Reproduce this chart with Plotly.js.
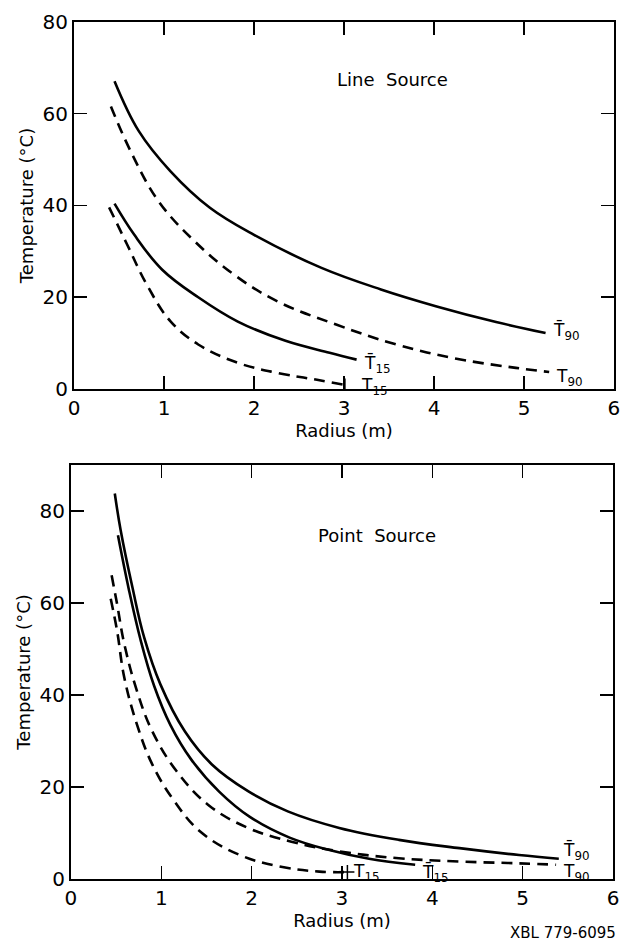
<!DOCTYPE html>
<html>
<head>
<meta charset="utf-8">
<script src="https://cdn.plot.ly/plotly-3.0.1.min.js"></script>
<style>html,body{margin:0;padding:0;background:#fff;}#chart{width:621px;height:952px;}</style>
</head>
<body>
<div id="chart"></div>
<script>
// ---- Line source (top panel) ----
const lineT90barX = [0.45, 0.72, 1.07, 1.51, 2.0, 2.75, 3.41, 4.03, 4.69, 5.24];
const lineT90barY = [67.1, 56.2, 47.5, 39.5, 33.6, 26.4, 21.7, 18.0, 14.6, 12.2];
const lineT90X = [0.41, 0.63, 0.94, 1.34, 1.78, 2.26, 2.92, 3.58, 4.25, 4.91, 5.28];
const lineT90Y = [61.6, 51.8, 40.9, 32.2, 24.9, 19.1, 14.0, 9.7, 6.6, 4.6, 3.7];
const lineT15barX = [0.45, 0.67, 0.98, 1.38, 1.82, 2.35, 2.84, 3.14];
const lineT15barY = [40.4, 33.6, 26.0, 20.0, 14.7, 10.5, 7.9, 6.4];
const lineT15X = [0.39, 0.59, 0.81, 1.07, 1.38, 1.82, 2.26, 2.70, 3.01];
const lineT15Y = [39.6, 31.5, 22.7, 14.8, 9.7, 5.7, 3.5, 2.0, 0.9];

// ---- Point source (bottom panel) ----
const ptT90barX = [0.485, 0.55, 0.68, 0.81, 0.99, 1.26, 1.56, 1.96, 2.40, 2.97, 3.63, 4.30, 4.96, 5.40];
const ptT90barY = [83.8, 75.8, 63.4, 52.5, 42.3, 32.1, 24.9, 19.1, 14.7, 11.1, 8.5, 6.7, 5.2, 4.4];
const ptT15barX = [0.52, 0.64, 0.77, 0.92, 1.10, 1.33, 1.64, 1.98, 2.42, 2.86, 3.30, 3.81];
const ptT15barY = [74.7, 63.0, 52.0, 42.0, 33.5, 26.0, 19.0, 13.5, 9.0, 6.3, 4.4, 3.1];
const ptT90X = [0.45, 0.51, 0.59, 0.73, 0.90, 1.17, 1.52, 1.96, 2.44, 2.97, 3.63, 4.30, 4.96, 5.37];
const ptT90Y = [66.0, 59.8, 51.1, 40.9, 32.1, 23.4, 16.1, 11.1, 8.1, 6.0, 4.5, 3.8, 3.4, 3.1];
const ptT15X = [0.44, 0.51, 0.59, 0.73, 0.90, 1.12, 1.43, 1.87, 2.31, 2.75, 3.06];
const ptT15Y = [60.9, 54.0, 43.8, 33.6, 24.9, 17.6, 10.3, 5.2, 2.7, 1.6, 1.5];

const xTicks = [0, 1, 2, 3, 4, 5, 6];
const yTicksTop = [0, 20, 40, 60, 80];
const yTicksBottom = [0, 20, 40, 60, 80];

const FONT = "DejaVu Sans, Liberation Sans, sans-serif";
const solid = {color: 'black', width: 2.6, shape: 'spline', smoothing: 1.1};
const dashed = {color: 'black', width: 2.6, dash: '11px,7px', shape: 'spline', smoothing: 1.1};

function tr(x, y, line, xa, ya) {
  return {x: x, y: y, mode: 'lines', line: line, xaxis: xa, yaxis: ya, hoverinfo: 'skip', showlegend: false};
}

const data = [
  tr(lineT90barX, lineT90barY, solid, 'x', 'y'),
  tr(lineT90X, lineT90Y, dashed, 'x', 'y'),
  tr(lineT15barX, lineT15barY, solid, 'x', 'y'),
  tr(lineT15X, lineT15Y, dashed, 'x', 'y'),
  {x: [lineT15X[lineT15X.length - 1]], y: [lineT15Y[lineT15Y.length - 1]], mode: 'markers', xaxis: 'x', yaxis: 'y',
   marker: {symbol: 'line-ns-open', size: 9, color: 'black', line: {color: 'black', width: 1.5}}, showlegend: false, hoverinfo: 'skip'},
  tr(ptT90barX, ptT90barY, solid, 'x2', 'y2'),
  tr(ptT15barX, ptT15barY, solid, 'x2', 'y2'),
  tr(ptT90X, ptT90Y, dashed, 'x2', 'y2'),
  tr(ptT15X, ptT15Y, dashed, 'x2', 'y2'),
  {x: [ptT15X[ptT15X.length - 1]], y: [ptT15Y[ptT15Y.length - 1]], mode: 'markers', xaxis: 'x2', yaxis: 'y2',
   marker: {symbol: 'cross-thin-open', size: 10, color: 'black', line: {color: 'black', width: 1.5}}, showlegend: false, hoverinfo: 'skip'}
];

const axisCommon = {
  showgrid: false, zeroline: false, showline: true, linecolor: 'black', linewidth: 2,
  mirror: 'ticks', ticks: 'inside', ticklen: 13, tickwidth: 1.5, tickcolor: 'black',
  tickfont: {family: FONT, size: 20, color: 'black'}
};

function lbl(x, y, text, xref, yref, size) {
  return {x: x, y: y, xref: xref, yref: yref, text: text, showarrow: false,
          font: {family: FONT, size: size || 17, color: 'black'}, xanchor: 'left'};
}

const T90bar = 'T\u0304<sub>90</sub>';
const T15bar = 'T\u0304<sub>15</sub>';
const T90 = 'T<sub>90</sub>';
const T15 = 'T<sub>15</sub>';

const layout = {
  width: 621, height: 952,
  margin: {l: 0, r: 0, t: 0, b: 0},
  paper_bgcolor: 'white', plot_bgcolor: 'white',
  showlegend: false,
  xaxis: Object.assign({}, axisCommon, {domain: [0.1192, 0.9887], range: [0, 6], tickvals: xTicks, anchor: 'y',
    title: {text: 'Radius (m)', font: {family: FONT, size: 18, color: 'black'}, standoff: 2}}),
  yaxis: Object.assign({}, axisCommon, {domain: [0.5914, 0.9769], range: [0, 80], tickvals: yTicksTop, anchor: 'x',
    title: {text: 'Temperature (°C)', font: {family: FONT, size: 18, color: 'black'}, standoff: 4}}),
  xaxis2: Object.assign({}, axisCommon, {domain: [0.1143, 0.9871], range: [0, 6], tickvals: xTicks, anchor: 'y2',
    title: {text: 'Radius (m)', font: {family: FONT, size: 18, color: 'black'}, standoff: 2}}),
  yaxis2: Object.assign({}, axisCommon, {domain: [0.0767, 0.5116], range: [0, 90], tickvals: yTicksBottom, anchor: 'x2',
    title: {text: 'Temperature (°C)', font: {family: FONT, size: 18, color: 'black'}, standoff: 4}}),
  annotations: [
    {x: 3.54, y: 67.4, xref: 'x', yref: 'y', text: 'Line  Source', showarrow: false,
     font: {family: FONT, size: 18, color: 'black'}},
    lbl(5.3, 12.6, T90bar, 'x', 'y'),
    lbl(5.33, 2.6, T90, 'x', 'y'),
    lbl(3.2, 5.4, T15bar, 'x', 'y'),
    lbl(3.17, 0.5, T15, 'x', 'y'),
    {x: 3.39, y: 74.7, xref: 'x2', yref: 'y2', text: 'Point  Source', showarrow: false,
     font: {family: FONT, size: 18, color: 'black'}},
    lbl(5.42, 6.0, T90bar, 'x2', 'y2'),
    lbl(5.42, 1.3, T90, 'x2', 'y2'),
    lbl(3.86, 1.4, T15bar, 'x2', 'y2'),
    lbl(3.1, 1.4, T15, 'x2', 'y2'),
    {x: 0.995, y: 0.008, xref: 'paper', yref: 'paper', xanchor: 'right', yanchor: 'bottom',
     text: 'XBL 779-6095', showarrow: false, font: {family: FONT, size: 15, color: 'black'}}
  ]
};

Plotly.newPlot('chart', data, layout, {displayModeBar: false, staticPlot: true});
</script>
</body>
</html>
